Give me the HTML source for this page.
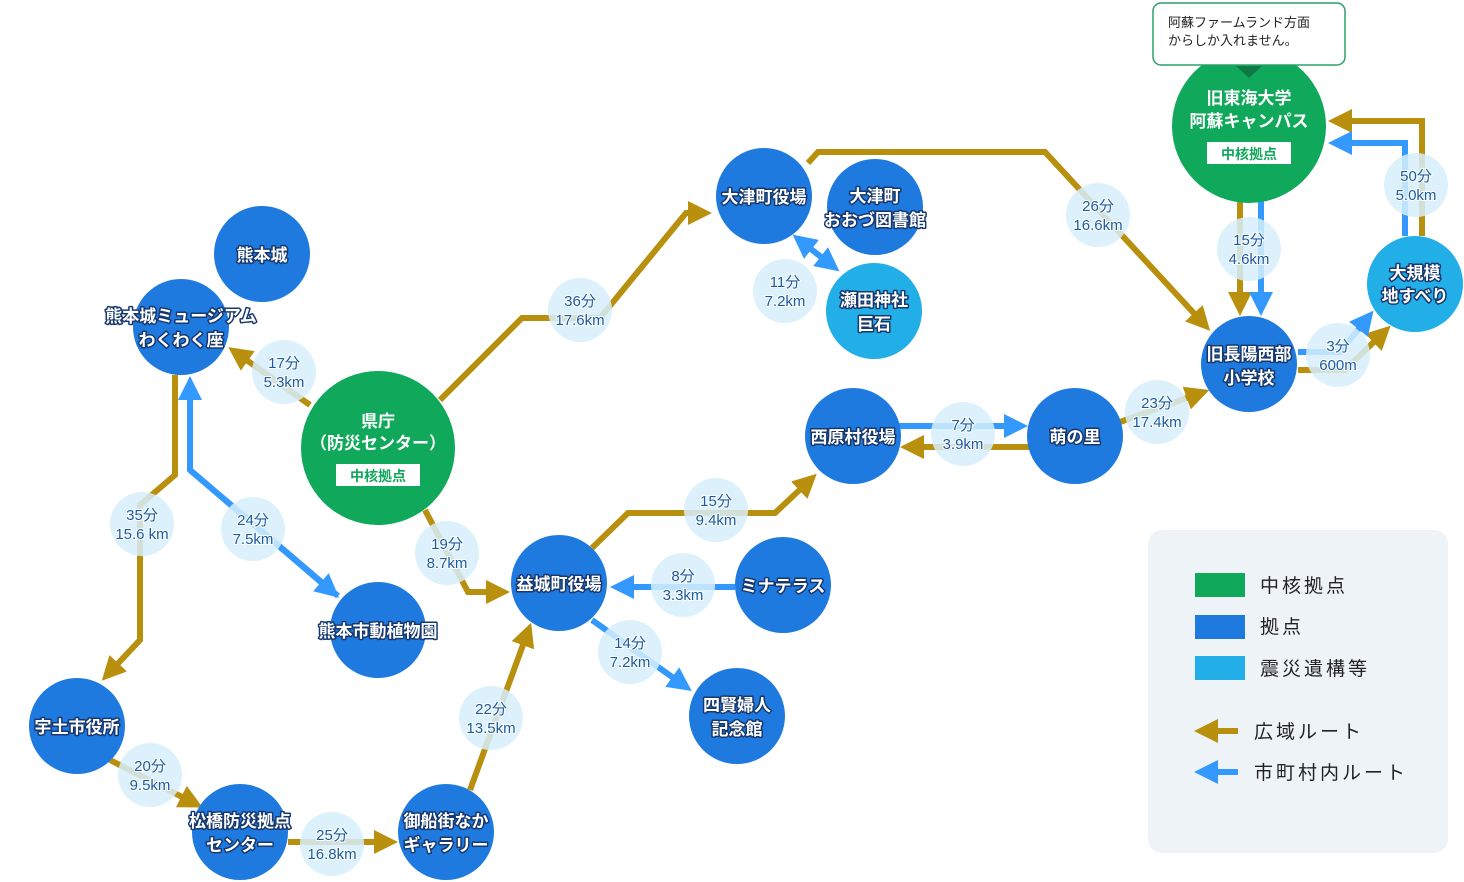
<!DOCTYPE html>
<html><head><meta charset="utf-8"><style>
html,body{margin:0;padding:0;background:#fff;}
svg{display:block;font-family:"Liberation Sans","Noto Sans CJK JP",sans-serif;}
.n{fill:#fff;font-size:17px;font-weight:bold;text-anchor:middle;stroke:#17386e;stroke-width:3px;paint-order:stroke;stroke-linejoin:round;}
.g{fill:#fff;font-size:17px;font-weight:bold;text-anchor:middle;}
.l{fill:#1a5aa0;font-size:15px;text-anchor:middle;stroke:#fff;stroke-width:2px;paint-order:stroke;}
.y{stroke:#b8900e;stroke-width:6;fill:none;}
.b{stroke:#3399ff;stroke-width:6;fill:none;}
.lg{font-size:19px;fill:#222;letter-spacing:3px;}
</style></head><body>
<svg width="1464" height="882" viewBox="0 0 1464 882" xmlns="http://www.w3.org/2000/svg">
<defs>
<marker id="ay" markerWidth="4" markerHeight="4" refX="2" refY="2" orient="auto" markerUnits="strokeWidth"><path d="M0,0 L4,2 L0,4 z" fill="#b8900e"/></marker>
<marker id="ab" markerWidth="4" markerHeight="4" refX="2" refY="2" orient="auto" markerUnits="strokeWidth"><path d="M0,0 L4,2 L0,4 z" fill="#3399ff"/></marker>
<marker id="ab2" markerWidth="4" markerHeight="4" refX="2" refY="2" orient="auto-start-reverse" markerUnits="strokeWidth"><path d="M0,0 L4,2 L0,4 z" fill="#3399ff"/></marker>
</defs>
<rect x="1148" y="530" width="300" height="323" rx="14" fill="#eef3f8"/>
<rect x="1195" y="573" width="50" height="24" fill="#10a85a"/>
<rect x="1195" y="615" width="50" height="24" fill="#1f7ae0"/>
<rect x="1195" y="656" width="50" height="24" fill="#22aee6"/>
<text class="lg" x="1260" y="592">中核拠点</text>
<text class="lg" x="1260" y="633">拠点</text>
<text class="lg" x="1260" y="675">震災遺構等</text>
<line class="y" x1="1238" y1="731" x2="1206" y2="731" marker-end="url(#ay)"/>
<line class="b" x1="1238" y1="772" x2="1206" y2="772" marker-end="url(#ab)"/>
<text class="lg" x="1254" y="738">広域ルート</text>
<text class="lg" x="1254" y="779">市町村内ルート</text>

<polyline class="y" points="310,405 238,354" marker-end="url(#ay)"/>
<polyline class="y" points="440,400 522,318 600,318 686,213 700,213" marker-end="url(#ay)"/>
<polyline class="y" points="808,163 818,152 1045,152 1202,322" marker-end="url(#ay)"/>
<polyline class="y" points="425,510 468,592 498,592" marker-end="url(#ay)"/>
<polyline class="y" points="592,548 628,513 775,513 808,482" marker-end="url(#ay)"/>
<polyline class="y" points="1030,447 912,447" marker-end="url(#ay)"/>
<polyline class="b" points="898,426 1016,426" marker-end="url(#ab)"/>
<polyline class="y" points="1120,422 1198,394" marker-end="url(#ay)"/>
<polyline class="y" points="1240,200 1240,304" marker-end="url(#ay)"/>
<polyline class="b" points="1261,200 1261,304" marker-end="url(#ab)"/>
<polyline class="y" points="1298,370 1345,370 1382,334" marker-end="url(#ay)"/>
<polyline class="b" points="1298,352 1340,352 1366,320" marker-end="url(#ab)"/>
<polyline class="y" points="1422,236 1422,121 1340,121" marker-end="url(#ay)"/>
<polyline class="b" points="1405,236 1405,143 1340,143" marker-end="url(#ab)"/>
<polyline class="b" points="735,587 622,587" marker-end="url(#ab)"/>
<polyline class="b" points="592,620 682,684" marker-end="url(#ab)"/>
<polyline class="y" points="470,790 527,634" marker-end="url(#ay)"/>
<polyline class="y" points="175,375 175,475 140,505 140,640 110,672" marker-end="url(#ay)"/>
<polyline class="b" points="338,596 190,470 190,388" marker-end="url(#ab)"/>
<polyline class="b" points="190,470 330,590" marker-end="url(#ab)"/>
<polyline class="y" points="110,760 192,802" marker-end="url(#ay)"/>
<polyline class="y" points="288,842 386,842" marker-end="url(#ay)"/>
<polyline class="b" points="802,242 830,264" marker-start="url(#ab2)" marker-end="url(#ab2)"/>

<g fill="#1f7ae0">
<circle cx="262" cy="254" r="48"/><circle cx="181" cy="327" r="48"/>
<circle cx="764" cy="196" r="48"/><circle cx="875" cy="207" r="48"/>
<circle cx="1249" cy="364" r="48"/><circle cx="1075" cy="436" r="48"/>
<circle cx="853" cy="436" r="48"/><circle cx="559" cy="583" r="48"/>
<circle cx="783" cy="585" r="48"/><circle cx="378" cy="630" r="48"/>
<circle cx="737" cy="716" r="48"/><circle cx="77" cy="726" r="48"/>
<circle cx="240" cy="832" r="48"/><circle cx="446" cy="832" r="48"/>
</g>
<circle cx="874" cy="311" r="48" fill="#22aee6"/>
<circle cx="1415" cy="284" r="48" fill="#22aee6"/>
<circle cx="378" cy="448" r="77" fill="#10a85a"/>
<circle cx="1249" cy="126" r="77" fill="#10a85a"/>

<rect x="1153" y="3" width="192" height="62" rx="8" fill="#fff" stroke="#2aa06a" stroke-width="1.5"/>
<path d="M1236,66 L1262,66 L1249,78 z" fill="#0d7a44"/>
<text x="1168" y="27" font-size="13" fill="#222">阿蘇ファームランド方面</text>
<text x="1168" y="45" font-size="13" fill="#222">からしか入れません。</text>

<text class="n" x="262" y="261">熊本城</text>
<text class="n" x="181" y="322">熊本城ミュージアム</text>
<text class="n" x="181" y="346">わくわく座</text>
<text class="g" x="378" y="427">県庁</text>
<text class="g" x="378" y="449">（防災センター）</text>
<rect x="336" y="464" width="84" height="22" fill="#fff"/>
<text x="378" y="481" font-size="14" font-weight="bold" fill="#10a85a" text-anchor="middle">中核拠点</text>
<text class="g" x="1249" y="104">旧東海大学</text>
<text class="g" x="1249" y="127">阿蘇キャンパス</text>
<rect x="1207" y="142" width="84" height="22" fill="#fff"/>
<text x="1249" y="159" font-size="14" font-weight="bold" fill="#10a85a" text-anchor="middle">中核拠点</text>
<text class="n" x="764" y="203">大津町役場</text>
<text class="n" x="875" y="202">大津町</text>
<text class="n" x="875" y="226">おおづ図書館</text>
<text class="n" x="874" y="306">瀬田神社</text>
<text class="n" x="874" y="330">巨石</text>
<text class="n" x="1415" y="279">大規模</text>
<text class="n" x="1415" y="302">地すべり</text>
<text class="n" x="1249" y="360">旧長陽西部</text>
<text class="n" x="1249" y="384">小学校</text>
<text class="n" x="1075" y="443">萌の里</text>
<text class="n" x="853" y="443">西原村役場</text>
<text class="n" x="559" y="590">益城町役場</text>
<text class="n" x="783" y="592">ミナテラス</text>
<text class="n" x="378" y="637">熊本市動植物園</text>
<text class="n" x="737" y="711">四賢婦人</text>
<text class="n" x="737" y="735">記念館</text>
<text class="n" x="77" y="733">宇土市役所</text>
<text class="n" x="240" y="827">松橋防災拠点</text>
<text class="n" x="240" y="851">センター</text>
<text class="n" x="446" y="827">御船街なか</text>
<text class="n" x="446" y="851">ギャラリー</text>

<g fill="#d6eefa" fill-opacity="0.85">
<circle cx="284" cy="372" r="32"/><circle cx="580" cy="310" r="32"/>
<circle cx="1098" cy="215" r="32"/><circle cx="785" cy="291" r="32"/>
<circle cx="1249" cy="249" r="32"/><circle cx="1416" cy="185" r="32"/>
<circle cx="1338" cy="355" r="32"/><circle cx="1157" cy="412" r="32"/>
<circle cx="963" cy="434" r="32"/><circle cx="716" cy="510" r="32"/>
<circle cx="683" cy="585" r="32"/><circle cx="630" cy="652" r="32"/>
<circle cx="447" cy="553" r="32"/><circle cx="142" cy="524" r="32"/>
<circle cx="253" cy="529" r="32"/><circle cx="491" cy="718" r="32"/>
<circle cx="150" cy="775" r="32"/><circle cx="332" cy="844" r="32"/>
</g>
<g>
<text class="l" x="284" y="368">17分</text><text class="l" x="284" y="387">5.3km</text>
<text class="l" x="580" y="306">36分</text><text class="l" x="580" y="325">17.6km</text>
<text class="l" x="1098" y="211">26分</text><text class="l" x="1098" y="230">16.6km</text>
<text class="l" x="785" y="287">11分</text><text class="l" x="785" y="306">7.2km</text>
<text class="l" x="1249" y="245">15分</text><text class="l" x="1249" y="264">4.6km</text>
<text class="l" x="1416" y="181">50分</text><text class="l" x="1416" y="200">5.0km</text>
<text class="l" x="1338" y="351">3分</text><text class="l" x="1338" y="370">600m</text>
<text class="l" x="1157" y="408">23分</text><text class="l" x="1157" y="427">17.4km</text>
<text class="l" x="963" y="430">7分</text><text class="l" x="963" y="449">3.9km</text>
<text class="l" x="716" y="506">15分</text><text class="l" x="716" y="525">9.4km</text>
<text class="l" x="683" y="581">8分</text><text class="l" x="683" y="600">3.3km</text>
<text class="l" x="630" y="648">14分</text><text class="l" x="630" y="667">7.2km</text>
<text class="l" x="447" y="549">19分</text><text class="l" x="447" y="568">8.7km</text>
<text class="l" x="142" y="520">35分</text><text class="l" x="142" y="539">15.6 km</text>
<text class="l" x="253" y="525">24分</text><text class="l" x="253" y="544">7.5km</text>
<text class="l" x="491" y="714">22分</text><text class="l" x="491" y="733">13.5km</text>
<text class="l" x="150" y="771">20分</text><text class="l" x="150" y="790">9.5km</text>
<text class="l" x="332" y="840">25分</text><text class="l" x="332" y="859">16.8km</text>
</g>
</svg>
</body></html>
